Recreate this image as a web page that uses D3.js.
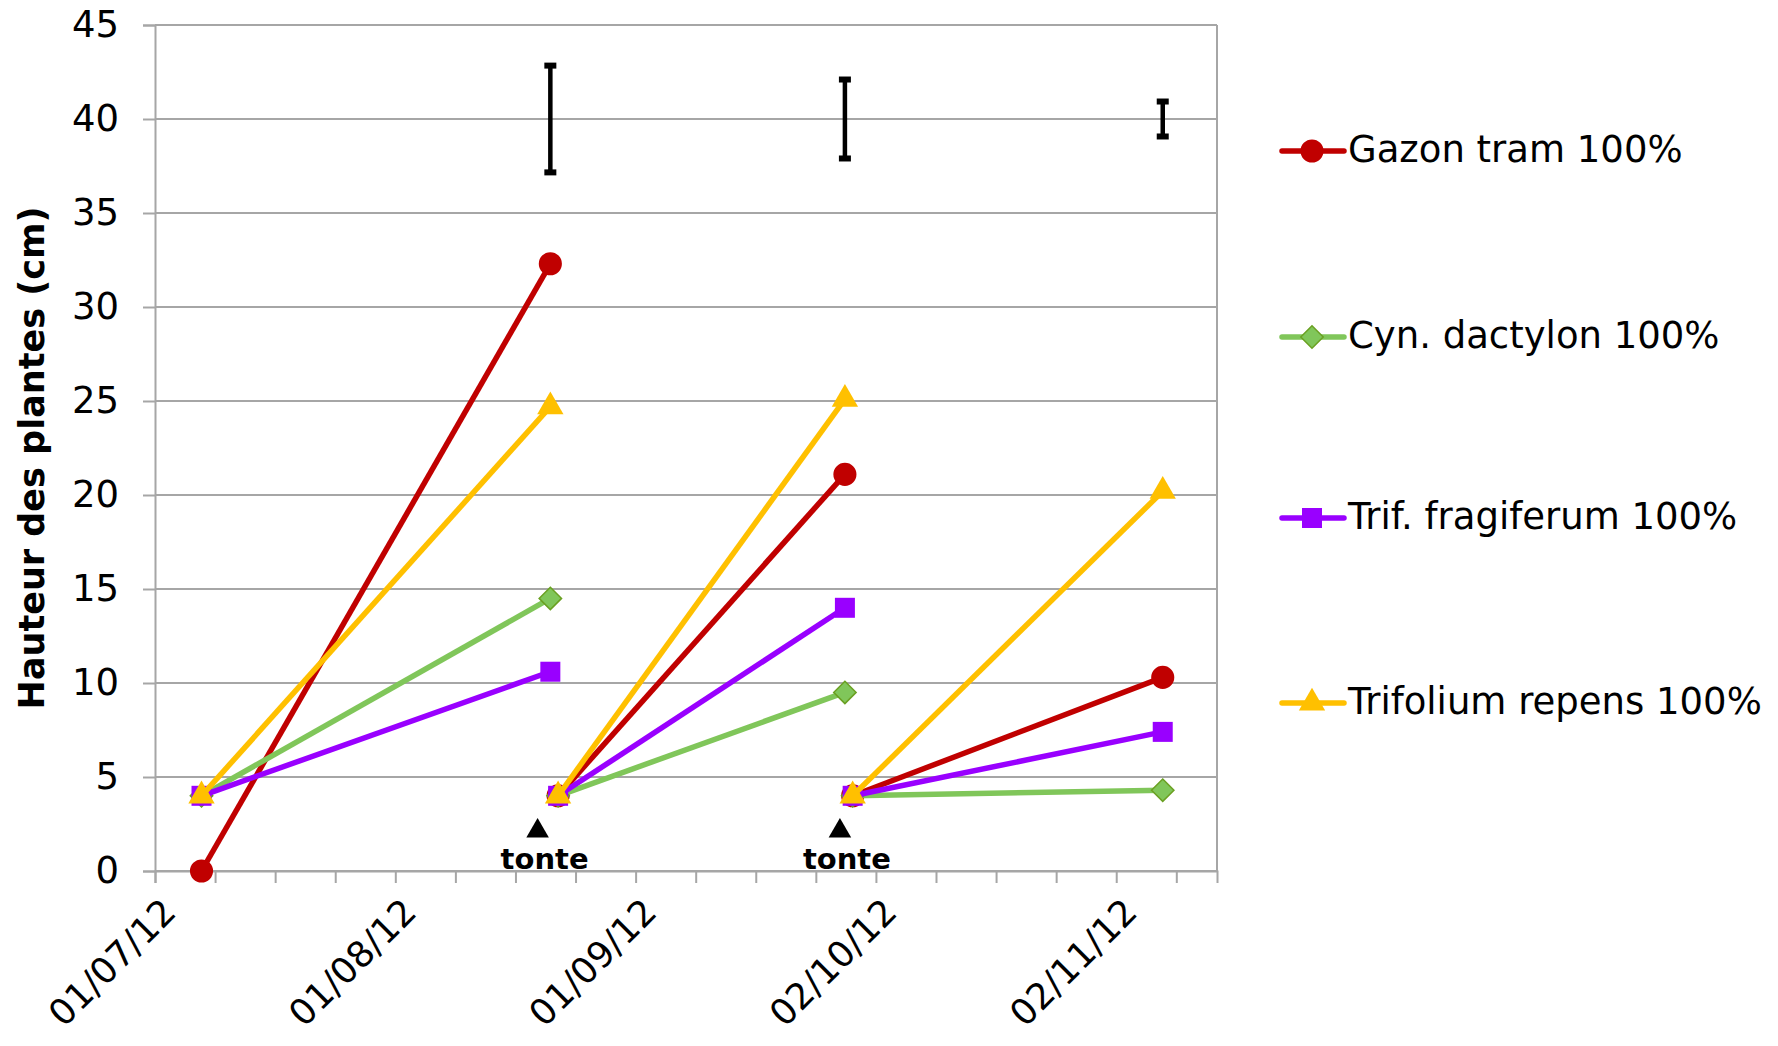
<!DOCTYPE html>
<html>
<head>
<meta charset="utf-8">
<script src="https://cdn.jsdelivr.net/npm/d3@7"></script>
<style>
  body { margin: 0; background: #fff; }
  svg { display: block; font-family: "DejaVu Sans", sans-serif; }
</style>
</head>
<body>
<svg id="chart" width="1778" height="1046"></svg>
<script>
// series names, colours and marker shapes
const seriesNames  = ["Gazon tram 100%", "Cyn. dactylon 100%", "Trif. fragiferum 100%", "Trifolium repens 100%"]
const seriesColors = ["#c00000", "#80c65a", "#9900ff", "#ffc000"]
const seriesShapes = ["circle", "diamond", "square", "triangle"]

// each period: start date -> end date (plants cut back after each "tonte")
const periodStart = ["2012-07-07", "2012-08-22", "2012-09-29"]
const periodEnd   = ["2012-08-21", "2012-09-28", "2012-11-08"]

// heights (cm) at start and end of each period, one row per series
const startValues = [
	[0, 4, 4],
	[4, 4, 4],
	[4, 4, 4],
	[4, 4, 4]
]
const endValues = [
	[32.3, 21.1, 10.3],
	[14.5,  9.5,  4.3],
	[10.6, 14.0,  7.4],
	[24.7, 25.1, 20.2]
]

// error bars drawn above the curves (centre 40, half width)
const errDates  = ["2012-08-21", "2012-09-28", "2012-11-08"]
const errCenter = [40, 40, 40]
const errHalf   = [2.84, 2.1, 0.93]

// mowing annotations
const tonteDates = ["2012-08-20", "2012-09-28"]

const yTicks = [0, 5, 10, 15, 20, 25, 30, 35, 40, 45]

const parse = d3.utcParse("%Y-%m-%d")
const svg = d3.select("#chart")

const mLeft = 155, mRight = 1217, mTop = 25, mBottom = 871
const x0 = parse("2012-07-01")

const x = d3.scaleUtc()
	.domain([x0, d3.utcDay.offset(x0, 137)])
	.range([mLeft, mRight])
const y = d3.scaleLinear().domain([0, 45]).range([mBottom, mTop])

// major ticks every 31 days, minor every quarter of that
const majorTicks = d3.range(5).map(i => d3.utcDay.offset(x0, 31 * i))
const minorTicks = d3.range(18).map(i => new Date(+x0 + i * 7.75 * 864e5))

// grid
svg.append("g")
	.selectAll("line")
	.data(yTicks)
	.join("line")
	.attr("x1", mLeft).attr("x2", mRight)
	.attr("y1", d => y(d)).attr("y2", d => y(d))
	.attr("stroke", "#a6a6a6").attr("stroke-width", 2)

// frame right side
svg.append("line")
	.attr("x1", mRight).attr("x2", mRight).attr("y1", mTop).attr("y2", mBottom)
	.attr("stroke", "#a6a6a6").attr("stroke-width", 2)

// y axis
const yAxis = svg.append("g")
	.attr("transform", `translate(${mLeft},0)`)
	.call(d3.axisLeft(y).tickValues(yTicks).tickSize(12).tickPadding(24))
yAxis.select(".domain").attr("stroke", "#a6a6a6").attr("stroke-width", 2)
yAxis.selectAll(".tick line").attr("stroke", "#a6a6a6").attr("stroke-width", 2)
yAxis.selectAll("text")
	.attr("font-size", 37).attr("fill", "#000")
	.attr("font-family", "DejaVu Sans")

// x axis: minor ticks then labelled major ticks
const xMinor = svg.append("g")
	.attr("transform", `translate(0,${mBottom})`)
	.call(d3.axisBottom(x).tickValues(minorTicks).tickSize(12).tickFormat(""))
xMinor.select(".domain").attr("stroke", "#a6a6a6").attr("stroke-width", 2)
xMinor.selectAll(".tick line").attr("stroke", "#a6a6a6").attr("stroke-width", 2)

const fmt = d3.utcFormat("%d/%m/%y")
svg.append("g")
	.selectAll("text")
	.data(majorTicks)
	.join("text")
	.attr("transform", d => `translate(${x(d) + 16},${mBottom + 36}) rotate(-45)`)
	.attr("text-anchor", "end")
	.attr("dominant-baseline", "middle")
	.attr("font-size", 36)
	.text(d => fmt(d))

// y title
svg.append("text")
	.attr("transform", `translate(34,${(mTop + mBottom) / 2 + 10}) rotate(-90)`)
	.attr("text-anchor", "middle")
	.attr("dominant-baseline", "middle")
	.attr("font-size", 35)
	.attr("font-weight", "bold")
	.text("Hauteur des plantes (cm)")

// error bars
const errG = svg.append("g").attr("stroke", "#000")
errDates.forEach(function(d, i) {
	const cx = x(parse(d))
	const y1 = y(errCenter[i] + errHalf[i]), y2 = y(errCenter[i] - errHalf[i])
	errG.append("line").attr("x1", cx).attr("x2", cx).attr("y1", y1).attr("y2", y2).attr("stroke-width", 4.5)
	errG.append("line").attr("x1", cx - 6).attr("x2", cx + 6).attr("y1", y1).attr("y2", y1).attr("stroke-width", 6)
	errG.append("line").attr("x1", cx - 6).attr("x2", cx + 6).attr("y1", y2).attr("y2", y2).attr("stroke-width", 6)
})

// marker symbols
function symbolPath(shape) {
	if (shape == "circle") return d3.symbol(d3.symbolCircle, 420)()
	if (shape == "square") return d3.symbol(d3.symbolSquare, 400)()
	if (shape == "triangle") return d3.symbol(d3.symbolTriangle, 300)()
	return d3.symbol(d3.symbolDiamond2, 320)()
}

// series
seriesNames.forEach(function(name, s) {
	const g = svg.append("g")
	const pts = []
	periodStart.forEach(function(d, p) {
		const seg = [
			{ date: parse(d), v: startValues[s][p] },
			{ date: parse(periodEnd[p]), v: endValues[s][p] }
		]
		g.append("path")
			.datum(seg)
			.attr("fill", "none")
			.attr("stroke", seriesColors[s])
			.attr("stroke-width", 5.5)
			.attr("d", d3.line().x(e => x(e.date)).y(e => y(e.v)))
		pts.push(...seg)
	})
	g.selectAll(".mk")
		.data(pts)
		.join("path")
		.attr("class", "mk")
		.attr("transform", d => `translate(${x(d.date)},${y(d.v)})`)
		.attr("d", symbolPath(seriesShapes[s]))
		.attr("fill", seriesColors[s])
		.attr("stroke", seriesShapes[s] == "diamond" ? "#6aa022" : "none")
		.attr("stroke-width", 1.5)
})

// tonte annotations
tonteDates.forEach(function(d) {
	const tx = x(parse(d))
	svg.append("path")
		.attr("transform", `translate(${tx - 5},${mBottom - 40})`)
		.attr("d", d3.symbol(d3.symbolTriangle, 220)())
		.attr("fill", "#000")
	svg.append("text")
		.attr("x", tx + 2).attr("y", mBottom - 2)
		.attr("text-anchor", "middle")
		.attr("font-size", 29)
		.attr("font-weight", "bold")
		.text("tonte")
})

// legend
const legend = svg.append("g")
const rowY = [151, 337, 518, 703]
seriesNames.forEach(function(name, s) {
	const ly = rowY[s]
	legend.append("line")
		.attr("x1", 1282).attr("x2", 1344).attr("y1", ly).attr("y2", ly)
		.attr("stroke", seriesColors[s]).attr("stroke-width", 5.5)
		.attr("stroke-linecap", "round")
	legend.append("path")
		.attr("transform", `translate(1312,${ly})`)
		.attr("d", symbolPath(seriesShapes[s]))
		.attr("fill", seriesColors[s])
		.attr("stroke", seriesShapes[s] == "diamond" ? "#6aa022" : "none")
		.attr("stroke-width", 1.5)
	legend.append("text")
		.attr("x", 1348).attr("y", ly)
		.attr("dominant-baseline", "middle")
		.attr("font-size", 37)
		.text(name)
})
</script>
</body>
</html>
